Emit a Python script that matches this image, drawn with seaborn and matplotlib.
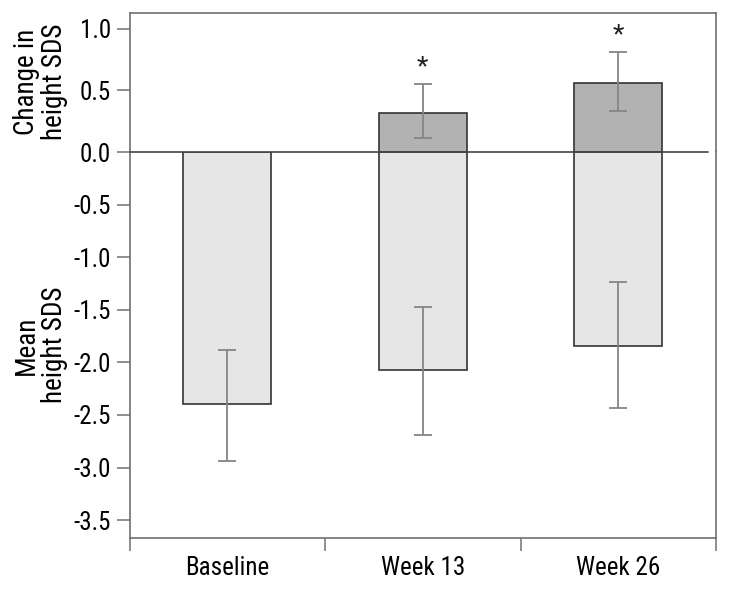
import numpy as np
import pandas as pd
import matplotlib
matplotlib.use("Agg")
import matplotlib.pyplot as plt
from matplotlib import font_manager
import seaborn as sns

# ========================================
# DATA
# ========================================
categories = ["Baseline", "Week 13", "Week 26"]

mean_sds = [-2.40, -2.07, -1.84]
mean_err_low = [-2.94, -2.69, -2.43]
mean_err_high = [-1.88, -1.47, -1.24]

change_cats = ["Week 13", "Week 26"]
change_sds = [0.32, 0.56]
change_err_low = [0.11, 0.33]
change_err_high = [0.55, 0.815]
star_height = [0.69, 0.95]

mean_ticks = [-3.5, -3.0, -2.5, -2.0, -1.5, -1.0, -0.5, 0.0]
change_ticks = [0.5, 1.0]

# ========================================
# STYLE
# ========================================
sns.set_style("white")

# pick a condensed face if one is available
names = {f.name for f in font_manager.fontManager.ttflist}
if "Liberation Sans Narrow" in names:
    family, stretch = ["Liberation Sans Narrow", "DejaVu Sans"], "normal"
elif "Roboto Condensed" in names:
    family, stretch = ["Roboto Condensed", "DejaVu Sans"], "normal"
else:
    family, stretch = ["DejaVu Sans"], "condensed"
plt.rcParams["font.family"] = family
plt.rcParams["font.stretch"] = stretch
plt.rcParams["font.size"] = 18
for k in ["text.color", "axes.labelcolor", "xtick.labelcolor", "ytick.labelcolor"]:
    plt.rcParams[k] = "black"

light = "#e6e6e6"
dark = "#b2b2b2"
edge = "#333333"
spine_c = "#707070"
err_c = "#858585"

W, H = 732, 590
fig = plt.figure(figsize=(W / 100, H / 100), dpi=100)

left, right = 129.5 / W, 716 / W
y_top, y_zero, y_bot = 12.5, 152, 538
ax_top = fig.add_axes([left, 1 - y_zero / H, right - left, (y_zero - y_top) / H])
ax_bot = fig.add_axes([left, 1 - y_bot / H, right - left, (y_bot - y_zero) / H])

mean_df = pd.DataFrame({"cat": categories, "val": mean_sds})
change_df = pd.DataFrame({"cat": change_cats, "val": change_sds})

# ---- bottom panel: mean height SDS
sns.barplot(data=mean_df, x="cat", y="val", order=categories, color=light,
            edgecolor=edge, linewidth=1.2, width=0.45, saturation=1, ax=ax_bot)
xpos = np.arange(len(categories))
m = np.array(mean_sds)
ax_bot.errorbar(xpos, m, yerr=[m - np.array(mean_err_low), np.array(mean_err_high) - m],
                fmt="none", ecolor=err_c, elinewidth=1.3, capsize=6.5, capthick=1.3, zorder=3)
ax_bot.axhline(0, xmin=0, xmax=0.986, color="#444444", lw=1.2, clip_on=False, zorder=4)

ax_bot.set_xlim(-0.5, 2.5)
ax_bot.set_ylim(-3.67, 0)
ax_bot.set_yticks(mean_ticks)
ax_bot.set_yticklabels([f"{t:.1f}" for t in mean_ticks])
ax_bot.set_xticks(xpos)
ax_bot.set_xticklabels(categories)
ax_bot.set_xticks(np.arange(len(categories) + 1) - 0.5, minor=True)
ax_bot.tick_params(axis="x", which="major", length=0, pad=13, bottom=True)
ax_bot.tick_params(axis="x", which="minor", length=9.5, width=1.1, color=spine_c,
                   direction="out", bottom=True)
ax_bot.tick_params(axis="y", length=9.5, width=1.1, color=spine_c, direction="out", pad=4, left=True)
ax_bot.set_xlabel("")
ax_bot.set_ylabel("Mean\nheight SDS", va="center", ha="center", linespacing=1.05, fontsize=19.5)
ax_bot.yaxis.set_label_coords(-0.152, 0.5)
for s in ["left", "right", "bottom"]:
    ax_bot.spines[s].set_color(spine_c)
    ax_bot.spines[s].set_linewidth(1.2)
ax_bot.spines["top"].set_visible(False)

# ---- top panel: change in height SDS
sns.barplot(data=change_df, x="cat", y="val", order=categories, color=dark,
            edgecolor=edge, linewidth=1.2, width=0.45, saturation=1, ax=ax_top)
cpos = np.array([categories.index(c) for c in change_cats])
c = np.array(change_sds)
ax_top.errorbar(cpos, c, yerr=[c - np.array(change_err_low), np.array(change_err_high) - c],
                fmt="none", ecolor=err_c, elinewidth=1.3, capsize=6.5, capthick=1.3, zorder=3)
for x, h in zip(cpos, star_height):
    ax_top.text(x, h, "*", ha="center", va="center", fontsize=19, color="#222222")

ax_top.set_xlim(-0.5, 2.5)
ax_top.set_ylim(0, 1.134)
ax_top.set_yticks(change_ticks)
ax_top.set_yticklabels([f"{t:.1f}" for t in change_ticks])
ax_top.set_xticks([])
ax_top.tick_params(axis="y", length=9.5, width=1.1, color=spine_c, direction="out", pad=4, left=True)
ax_top.set_xlabel("")
ax_top.set_ylabel("Change in\nheight SDS", va="center", ha="center", linespacing=1.05, fontsize=19.5)
ax_top.yaxis.set_label_coords(-0.152, 0.5)
for s in ["left", "right", "top"]:
    ax_top.spines[s].set_color(spine_c)
    ax_top.spines[s].set_linewidth(1.2)
ax_top.spines["bottom"].set_visible(False)

fig.savefig("out.png", dpi=100)
